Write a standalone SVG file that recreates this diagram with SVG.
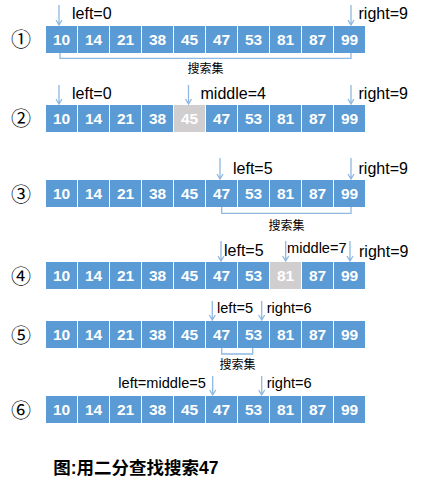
<svg xmlns="http://www.w3.org/2000/svg" width="432" height="494" viewBox="0 0 432 494">
<style>
.c{fill:#5b9bd5}
.g{fill:#d0cece}
.v{font-family:"Liberation Sans",Arial,sans-serif;font-weight:bold;font-size:15.5px;fill:#fff;text-anchor:middle}
.l{font-family:"Liberation Sans",Arial,sans-serif;font-size:16px;fill:#000}
.s{font-size:14.6px}
.n{font-family:"Noto Sans CJK SC",sans-serif;font-size:20px;fill:#000;text-anchor:middle}
.k{font-family:"Noto Sans CJK SC",sans-serif;font-size:12px;fill:#000;text-anchor:middle}
.a{fill:none;stroke:#8fb8e2;stroke-width:1.3}
.cap{font-family:"Liberation Sans","Noto Sans CJK SC",sans-serif;font-weight:bold;font-size:17.5px;fill:#000}
</style>
<defs>
<g id="cells">
<rect class="c" x="46" y="0" width="31" height="27"/>
<rect class="c" x="78" y="0" width="31" height="27"/>
<rect class="c" x="110" y="0" width="31" height="27"/>
<rect class="c" x="142" y="0" width="31" height="27"/>
<rect class="c" x="174" y="0" width="31" height="27"/>
<rect class="c" x="206" y="0" width="31" height="27"/>
<rect class="c" x="238" y="0" width="31" height="27"/>
<rect class="c" x="270" y="0" width="31" height="27"/>
<rect class="c" x="302" y="0" width="31" height="27"/>
<rect class="c" x="334" y="0" width="31" height="27"/>
</g>
<g id="nums">
<text class="v" x="61.5" y="18.5">10</text>
<text class="v" x="93.5" y="18.5">14</text>
<text class="v" x="125.5" y="18.5">21</text>
<text class="v" x="157.5" y="18.5">38</text>
<text class="v" x="189.5" y="18.5">45</text>
<text class="v" x="221.5" y="18.5">47</text>
<text class="v" x="253.5" y="18.5">53</text>
<text class="v" x="285.5" y="18.5">81</text>
<text class="v" x="317.5" y="18.5">87</text>
<text class="v" x="349.5" y="18.5">99</text>
</g>
</defs>

<g id="row1">
<text class="n" x="21" y="46.5">①</text>
<use href="#cells" y="26"/>
<use href="#nums" y="26"/>
<text class="l" x="72" y="19">left=0</text>
<text class="l" x="358.5" y="19">right=9</text>
<text class="k" x="205.5" y="72.5">搜索集</text>
</g>

<g id="row2">
<text class="n" x="21" y="125.5">②</text>
<use href="#cells" y="105"/>
<rect class="g" x="174" y="105" width="31" height="27"/>
<use href="#nums" y="105"/>
<text class="l" x="72" y="99">left=0</text>
<text class="l" x="200.5" y="99">middle=4</text>
<text class="l" x="358.5" y="99">right=9</text>
</g>

<g id="row3">
<text class="n" x="21" y="201.5">③</text>
<use href="#cells" y="180"/>
<use href="#nums" y="180"/>
<text class="l" x="233" y="174">left=5</text>
<text class="l" x="358.5" y="174">right=9</text>
<text class="k" x="286.5" y="229.5">搜索集</text>
</g>

<g id="row4">
<text class="n" x="21" y="283.5">④</text>
<use href="#cells" y="262"/>
<rect class="g" x="270" y="262" width="31" height="27"/>
<use href="#nums" y="262"/>
<text class="l" x="224" y="256">left=5</text>
<text class="l s" x="287" y="252.5">middle=7</text>
<text class="l" x="359" y="256.5">right=9</text>
</g>

<g id="row5">
<text class="n" x="21" y="342.5">⑤</text>
<use href="#cells" y="321"/>
<use href="#nums" y="321"/>
<text class="l s" x="217" y="313">left=5</text>
<text class="l s" x="266.7" y="313">right=6</text>
<text class="k" x="237.5" y="368.5">搜索集</text>
</g>

<g id="row6">
<text class="n" x="21" y="417.5">⑥</text>
<use href="#cells" y="396"/>
<use href="#nums" y="396"/>
<text class="l s" x="118.3" y="388">left=middle=5</text>
<text class="l s" x="266.7" y="388">right=6</text>
</g>

<g id="connectors">
<path class="a" d="M59,5V25M56,20L59,25L62,20"/>
<path class="a" d="M351,5V25M348,20L351,25L354,20"/>
<path class="a" d="M60,53V58.3H351V53"/>

<path class="a" d="M59,85V104M56,99L59,104L62,99"/>
<path class="a" d="M188.5,85V104M185.5,99L188.5,104L191.5,99"/>
<path class="a" d="M351,85V104M348,99L351,104L354,99"/>

<path class="a" d="M220,158V179M217,174L220,179L223,174"/>
<path class="a" d="M351,158V179M348,174L351,179L354,174"/>
<path class="a" d="M221.7,207V213.3H351V207"/>

<path class="a" d="M221,241V261M218,256L221,261L224,256"/>
<path class="a" d="M285.7,241V261M282.7,256L285.7,261L288.7,256"/>
<path class="a" d="M350,241V261M347,256L350,261L353,256"/>

<path class="a" d="M212.3,301V320M209.3,315L212.3,320L215.3,315"/>
<path class="a" d="M261.7,301V320M258.7,315L261.7,320L264.7,315"/>
<path class="a" d="M221.7,348V354H252.7V348"/>

<path class="a" d="M212.7,376V395M209.7,390L212.7,395L215.7,390"/>
<path class="a" d="M261.7,376V395M258.7,390L261.7,395L264.7,390"/>
</g>

<text class="cap" x="53.3" y="474">图:用二分查找搜索47</text>
</svg>
